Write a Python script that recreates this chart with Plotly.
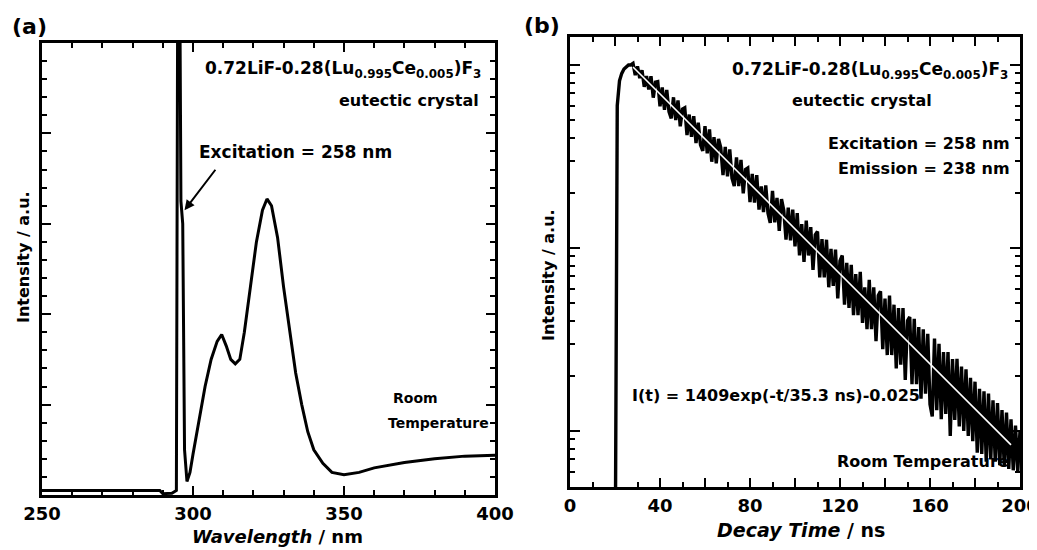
import plotly.graph_objects as go

# ---------- Panel (a): emission spectrum ----------
wavelength_nm = [250, 260, 270, 280, 289, 290, 292, 293, 294.5, 295, 295.5, 296,
                 296.6, 297.2, 298, 299, 300, 302, 304, 306, 308, 309.5, 311,
                 312.5, 314, 315.5, 317, 319, 321, 323, 324.5, 326, 328, 330, 332,
                 334, 336, 338, 340, 343, 346, 350, 355, 360, 370, 380, 390, 400]
emission_int = [0.01, 0.01, 0.01, 0.01, 0.01, 0.003, 0.003, 0.004, 0.01, 1.3, 1.3, 0.65,
                0.6, 0.1, 0.03, 0.05, 0.09, 0.17, 0.24, 0.30, 0.34, 0.355, 0.33,
                0.30, 0.29, 0.30, 0.36, 0.46, 0.56, 0.63, 0.655, 0.64, 0.57, 0.46, 0.36,
                0.27, 0.20, 0.14, 0.10, 0.07, 0.05, 0.045, 0.05, 0.06, 0.072, 0.08, 0.086, 0.088]
wl_tickvals = [250, 300, 350, 400]
wl_ticktext = ["250", "300", "350", "400"]

# ---------- Panel (b): decay curve ----------
decay_t = list(range(20, 201))
decay_counts = [1, 600, 820, 900, 950, 980, 1000, 1000,
                1020, 880, 983, 848, 937, 760, 870, 734, 868, 663, 806, 812, 595,
                754, 569, 731, 556, 511, 666, 500, 640, 462, 574,
                583, 414, 536, 405, 525, 374, 484, 366, 339, 464,
                329, 445, 296, 404, 290, 395, 354, 250, 357, 246,
                346, 241, 218, 313, 218, 303, 199, 269, 274, 178,
                254, 177, 250, 162, 217, 157, 220, 155, 137, 205,
                138, 188, 124, 185, 161, 111, 166, 110, 162, 102,
                155, 91, 135, 84, 141, 91, 130, 76, 118, 123,
                69, 112, 69, 111, 61, 99, 62, 98, 53, 85,
                91, 49, 83, 47, 81, 43, 72, 43, 74, 39,
                61, 36, 67, 36, 61, 31, 55, 58, 28, 53,
                26, 55, 26, 49, 22, 47, 23, 47, 19, 40,
                42, 18, 41, 18, 37, 15, 36, 16, 34, 14,
                12, 32, 13, 30, 11.6, 27, 12.4, 27, 9.4, 24.7,
                11.5, 24.8, 10.6, 22.5, 10, 21.7, 9.4, 19.5, 8.8, 18.6,
                7.6, 17, 7.5, 16.5, 6.8, 16, 7, 14.7, 6.8, 14.2,
                6.5, 13, 6.4, 12.6, 6.2, 11.6, 6.1, 10.7, 6.0, 10]
fit_t = [28, 196]
fit_counts = [975, 8.4]
t_tickvals = [0, 20, 40, 60, 80, 100, 120, 140, 160, 180, 200]
t_ticktext = ["0", "", "40", "", "80", "", "120", "", "160", "", "200"]

# page body has an 8 px default margin: shift every placement by it
OFF = 8
W, H = 1037 - OFF, 550 - OFF
FONT = "DejaVu Sans"

def px(x):
    return (x - OFF) / W

def py(y):
    return 1 - (y - OFF) / H

fig = go.Figure()
fig.add_trace(go.Scatter(x=wavelength_nm, y=emission_int, mode="lines",
                         line=dict(color="black", width=3), xaxis="x", yaxis="y",
                         showlegend=False, hoverinfo="skip"))
fig.add_trace(go.Scatter(x=decay_t, y=decay_counts, mode="lines",
                         line=dict(color="black", width=3.4), xaxis="x2", yaxis="y2",
                         showlegend=False, hoverinfo="skip"))
fig.add_trace(go.Scatter(x=fit_t, y=fit_counts, mode="lines",
                         line=dict(color="white", width=1.6), xaxis="x2", yaxis="y2",
                         showlegend=False, hoverinfo="skip"))

tick_font = dict(family=FONT, size=18, color="black", weight="bold")
common = dict(showline=True, linecolor="black", linewidth=3, mirror="allticks",
              ticks="inside", tickcolor="black", tickwidth=2, showgrid=False,
              zeroline=False)

fig.update_layout(
    width=W, height=H, margin=dict(l=0, r=0, t=0, b=0, autoexpand=False),
    paper_bgcolor="white", plot_bgcolor="white",
    xaxis=dict(domain=[px(42), px(495)], range=[250, 400], anchor="y",
               tickvals=wl_tickvals, ticktext=wl_ticktext, ticklen=9,
               ticklabeloverflow="allow",
               minor=dict(dtick=10, ticklen=5, tickcolor="black", tickwidth=2, ticks="inside"),
               tickfont=tick_font, **common),
    yaxis=dict(domain=[py(495), py(43)], range=[0, 1], anchor="x",
               dtick=0.2, ticklen=9, showticklabels=False,
               minor=dict(dtick=0.04, ticklen=5, tickcolor="black", tickwidth=2, ticks="inside"),
               **common),
    xaxis2=dict(domain=[px(570), px(1020)], range=[0, 200], anchor="y2",
                tickvals=t_tickvals, ticktext=t_ticktext, ticklen=9,
                ticklabeloverflow="allow",
                minor=dict(dtick=10, ticklen=5, tickcolor="black", tickwidth=2, ticks="inside"),
                tickfont=tick_font, **common),
    yaxis2=dict(domain=[py(487), py(37)], type="log", range=[0.694, 3.153], anchor="x2",
                dtick=1, ticklen=10, showticklabels=False,
                minor=dict(dtick="D1", ticklen=5, tickcolor="black", tickwidth=2, ticks="inside"),
                **common),
)

def ann(text, x, y, size=16, xanchor="left", yanchor="middle", textangle=0, family=FONT):
    fig.add_annotation(text=text, x=px(x), y=py(y), xref="paper", yref="paper",
                       showarrow=False, xanchor=xanchor, yanchor=yanchor,
                       textangle=textangle,
                       font=dict(family=family, size=size, color="black", weight="bold"))

formula = "0.72LiF-0.28(Lu<sub>0.995</sub>Ce<sub>0.005</sub>)F<sub>3</sub>"
# panel labels
ann("(a)", 29, 27, size=22, xanchor="center")
ann("(b)", 542, 26, size=22, xanchor="center")
# panel (a) texts
ann(formula, 483, 69, size=17, xanchor="right")
ann("eutectic crystal", 481, 100, size=16, xanchor="right")
ann("Excitation = 258 nm", 197, 152, size=17)
ann("Room", 391, 398, size=14)
ann("Temperature", 491, 423, size=14, xanchor="right")
fig.add_annotation(x=297.2, y=0.63, xref="x", yref="y", ax=32, ay=-42,
                   text="", showarrow=True, arrowhead=2, arrowsize=1, arrowwidth=2,
                   arrowcolor="black")
# axis titles (a)
ann("<i>Wavelength</i> / nm", 277, 536, size=18, xanchor="center")
ann("Intensity / a.u.", 23, 257, size=16, xanchor="center", textangle=-90)
# panel (b) texts
ann(formula, 1010, 70, size=17, xanchor="right")
ann("eutectic crystal", 862, 100, size=16, xanchor="center")
ann("Excitation = 258 nm", 1012, 143, size=16, xanchor="right")
ann("Emission = 238 nm", 1012, 169, size=16, xanchor="right")
ann("I(t) = 1409exp(-t/35.3 ns)-0.025", 630, 395, size=16)
ann("Room Temperature", 1011, 461, size=16, xanchor="right")
ann("<i>Decay Time</i> / ns", 801, 530, size=19, xanchor="center")
ann("Intensity / a.u.", 548, 275, size=16, xanchor="center", textangle=-90)

fig.write_html("out.html")
